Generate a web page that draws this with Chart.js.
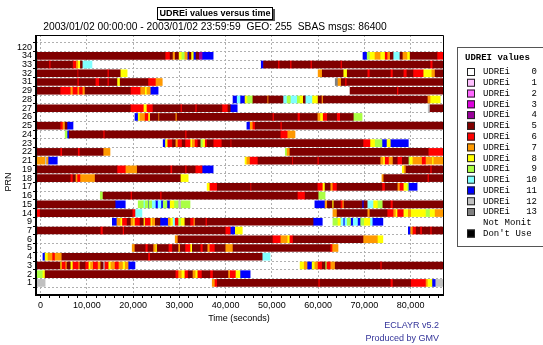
<!DOCTYPE html>
<html><head><meta charset="utf-8">
<script src="https://cdn.jsdelivr.net/npm/chart.js@4.4.0/dist/chart.umd.min.js"></script>
<style>html,body{margin:0;padding:0;background:#fff;overflow:hidden}canvas{display:block}</style>
</head><body>
<canvas id="c" width="543" height="345"></canvas>
<script>
// ---- categories (PRN rows, bottom to top) ----
const prnLabels = ['1','2','3','4','5','6','7','9','14','15','16','17','18','19','21','22','23','24','25','26','27','28','29','31','32','33','34','120'];

// ---- x ticks ----
const xMajorTicks = [0,10000,20000,30000,40000,50000,60000,70000,80000];
const xTickLabels = ['0','10,000','20,000','30,000','40,000','50,000','60,000','70,000','80,000'];
const xMinorTicks = [0,2000,4000,6000,8000,10000,12000,14000,16000,18000,20000,22000,24000,26000,28000,30000,32000,34000,36000,38000,40000,42000,44000,46000,48000,50000,52000,54000,56000,58000,60000,62000,64000,66000,68000,70000,72000,74000,76000,78000,80000,82000,84000,86000];

// ---- legend ----
const legendNames = ['UDREi','UDREi','UDREi','UDREi','UDREi','UDREi','UDREi','UDREi','UDREi','UDREi','UDREi','UDREi','UDREi','UDREi','Not Monit',"Don't Use"];
const legendValues = ['0','1','2','3','4','5','6','7','8','9','10','11','12','13','',''];
const udreiColors = ['#ffffff','#ffc0ff','#ff66ff','#dd00dd','#990099','#800000','#ff0000','#ff9900','#ffff00','#aaff44','#80ffff','#0000ff','#c0c0c0','#808080',null,'#000000'];

// ---- series: per PRN, change points [time (s), UDREi code]; null = no data ----
const prn120 = [];
const prn34 = [[-1000,5],[26900,6],[28000,5],[28500,7],[29100,5],[29800,8],[30400,9],[31200,7],[31700,11],[32100,5],[32500,8],[33000,11],[33600,5],[34300,4],[34900,11],[37300,null],
  [69700,11],[70600,9],[71200,8],[72300,7],[73400,8],[74500,6],[74900,7],[75600,5],[76200,10],[77700,5],[78200,7],[79200,8],[79900,5],[85700,6],[87000,null]];
const prn33 = [[-1000,5],[1800,6],[2200,5],[6900,6],[7600,7],[8000,8],[8600,5],[9000,10],[11100,null],
  [47700,11],[48200,5],[51300,6],[51700,5],[53900,6],[54300,5],[58300,6],[58700,5],[64800,6],[65200,5],[84200,6],[84800,5],[87000,null]];
const prn32 = [[-1000,5],[7900,6],[8200,5],[14400,6],[14800,5],[17200,8],[18700,null],
  [60000,7],[60900,5],[65400,8],[66300,5],[70600,6],[71200,5],[75600,6],[76200,5],[78400,6],[79200,5],[80500,6],[82700,8],[84600,7],[85300,5],[87000,null]];
const prn31 = [[-1000,5],[7900,6],[8300,5],[11800,6],[12700,5],[14400,6],[14800,5],[16500,8],[17200,5],[23200,6],[24800,7],[26300,null],
  [63700,13],[64300,7],[65000,5],[65800,6],[66200,5],[87000,null]];
const prn29 = [[-1000,5],[4200,6],[6400,7],[7000,6],[7900,7],[8400,6],[9000,7],[9600,5],[19400,6],[21500,7],[22500,8],[23000,7],[23700,11],[25400,null],
  [66900,5],[77000,6],[77400,5],[87000,null]];
const prn28 = [[41600,11],[42500,10],[43100,11],[44200,8],[44600,9],[45900,5],[48970,7],[49300,5],[52400,10],[53300,9],[54000,10],[55500,9],[56100,8],[56800,5],[57200,10],[58800,8],[60000,5],[60700,7],[61100,5],[83600,7],[84200,8],[86400,null]];
const prn27 = [[-1000,5],[19400,6],[22200,8],[23000,6],[24300,5],[30200,6],[30600,5],[33400,6],[33800,5],[39200,6],[40500,5],[41000,11],[42500,null],
  [83800,12],[84200,5],[87000,null]];
const prn26 = [[20400,11],[21100,8],[21500,7],[22600,6],[23200,8],[23700,5],[25400,7],[25700,5],[29100,7],[29500,5],[50100,6],[50500,5],[55500,6],[56100,5],[59800,7],[60400,8],[61100,6],[62000,5],[64000,6],[64800,5],[67600,9],[69500,null]];
const prn25 = [[-1000,5],[4200,6],[4700,7],[5300,5],[5700,11],[7000,null],
  [44600,11],[45300,7],[45900,6],[46400,5],[51800,6],[52200,5],[87000,null]];
const prn24 = [[5300,9],[5700,11],[6200,5],[13500,6],[13900,5],[31200,6],[31600,5],[51800,6],[53300,7],[55000,null]];
const prn23 = [[26500,11],[27000,8],[27500,6],[28500,5],[29100,7],[29700,6],[30600,5],[31200,6],[32300,8],[32800,7],[33400,6],[34000,5],[34500,9],[35100,8],[35600,6],[36000,5],[37300,6],[39200,5],[41000,6],[41300,5],[69700,6],[71200,8],[72200,9],[73800,11],[74900,8],[75600,11],[79500,null]];
const prn22 = [[-1000,5],[4200,6],[4700,5],[8000,6],[8500,5],[13500,7],[15000,null],
  [52900,9],[53300,7],[53900,5],[83800,6],[87000,null]];
const prn21 = [[-1000,7],[900,12],[1300,7],[1600,11],[3600,null],
  [44200,8],[44600,7],[45300,6],[47000,5],[54300,6],[54600,5],[59800,6],[60200,5],[73400,7],[74000,8],[74500,6],[75200,7],[76200,5],[77100,6],[78200,5],[79500,9],[79900,8],[80500,7],[82500,6],[83200,7],[84600,8],[85000,7],[87000,null]];
const prn19 = [[-1000,5],[16500,6],[18300,7],[20900,5],[28000,6],[28500,5],[31200,6],[31600,5],[33400,6],[34900,11],[37300,null],
  [78200,8],[78600,7],[79000,5],[84200,6],[84600,5],[87000,null]];
const prn18 = [[-1000,5],[6400,6],[7000,5],[7500,7],[8000,6],[8500,7],[11800,5],[30200,8],[31900,null],
  [73800,7],[74200,5],[83600,6],[84000,5],[87000,null]];
const prn17 = [[36000,8],[36600,6],[38200,5],[45300,6],[45600,5],[59800,6],[60900,8],[61500,5],[62600,7],[63200,6],[64100,5],[73800,6],[74500,5],[77100,7],[77700,6],[78400,8],[79200,9],[79500,11],[81400,null]];
const prn16 = [[12900,9],[13500,5],[19400,6],[19800,5],[25800,6],[26200,5],[55500,6],[57200,5],[60000,9],[61500,null]];
const prn15 = [[-1000,5],[16100,11],[18300,null],
  [21100,9],[22200,10],[22600,9],[23200,11],[23400,9],[24000,10],[24800,11],[25400,10],[26000,11],[26500,9],[27300,11],[28000,8],[28800,9],[29700,12],[30400,9],[32300,null],
  [59300,11],[61500,7],[62000,5],[63000,8],[63400,5],[64800,6],[65200,7],[65600,5],[69500,11],[69900,5],[70600,10],[72000,8],[72800,9],[74000,5],[75600,6],[76200,5],[87000,null]];
const prn14 = [[-1000,6],[-100,5],[19800,6],[20400,10],[21900,null],
  [63200,7],[64100,5],[70600,7],[71200,5],[74900,6],[76200,7],[76700,8],[77200,6],[78400,8],[79500,7],[80000,8],[83200,9],[84200,8],[85300,7],[87000,null]];
const prn9 = [[15500,11],[16500,7],[17200,8],[17700,6],[18700,5],[19400,7],[20000,8],[20400,6],[21500,5],[22200,8],[22600,6],[23700,8],[24100,7],[24800,5],[25800,11],[27600,7],[28000,8],[28500,10],[29100,6],[29700,9],[30400,8],[31200,5],[32300,6],[33000,7],[33400,5],[35600,6],[36000,5],[58900,11],[60900,null],
  [63200,9],[64300,8],[64800,10],[65400,11],[65800,10],[66300,9],[67000,11],[67600,10],[68500,11],[69200,9],[70000,8],[71200,10],[71700,11],[74000,null]];
const prn7 = [[-1000,5],[12900,6],[13500,5],[17700,6],[18100,5],[39900,6],[41000,11],[42100,8],[43600,null],
  [79500,11],[80000,7],[80500,6],[81200,5],[82000,6],[82500,5],[84200,6],[84600,5],[87000,null]];
const prn6 = [[29100,7],[29700,5],[50100,6],[51800,7],[53300,8],[53900,6],[54600,5],[69700,7],[72800,8],[74000,null]];
const prn5 = [[19800,7],[20400,5],[22600,6],[23200,5],[24300,7],[24800,8],[25200,5],[27600,6],[28500,5],[29700,7],[30200,5],[31200,6],[32300,8],[32800,5],[34500,6],[35100,5],[36000,7],[36600,6],[37700,5],[39900,7],[41600,5],[62600,6],[63000,7],[64300,null]];
const prn4 = [[500,11],[970,8],[1600,7],[2600,6],[3000,7],[4600,5],[23200,6],[23700,5],[47900,10],[49600,null]];
const prn3 = [[-1000,5],[4200,8],[4600,6],[5300,7],[5700,5],[6400,8],[7000,6],[8100,7],[8500,5],[9600,6],[10300,8],[10800,7],[11400,6],[12300,7],[13000,5],[13500,12],[13900,6],[14600,8],[15200,7],[16100,6],[16800,7],[17700,8],[18300,7],[18900,11],[20400,null],
  [56100,8],[57000,7],[57600,11],[58700,8],[59300,7],[60000,6],[60900,5],[61500,9],[61900,6],[62600,7],[63700,5],[73400,6],[73800,5],[87000,null]];
const prn2 = [[-1000,9],[500,8],[970,5],[29100,6],[29700,7],[30400,8],[31200,6],[31900,5],[32800,7],[33400,8],[34000,6],[34900,5],[36600,6],[37300,5],[40500,7],[41000,6],[42100,8],[43100,11],[45300,null]];
const prn1 = [[-1000,12],[970,null],
  [37100,7],[37700,6],[38200,5],[60000,6],[60400,5],[75600,6],[76200,5],[80000,6],[83200,7],[83600,8],[84600,11],[85300,12],[87000,null]];

const rowRuns = [prn1,prn2,prn3,prn4,prn5,prn6,prn7,prn9,prn14,prn15,prn16,prn17,prn18,prn19,prn21,prn22,prn23,prn24,prn25,prn26,prn27,prn28,prn29,prn31,prn32,prn33,prn34,prn120];

// ---- build datasets (one per UDREi code) ----
const datasets = legendNames.map((n,k)=>({
  label: n + ' ' + legendValues[k],
  data: [],
  backgroundColor: udreiColors[k] || 'rgba(0,0,0,0)',
  borderWidth: 0,
  barThickness: 7,
  grouped: false
}));
rowRuns.forEach((runs, idx)=>{
  for (let i=0;i<runs.length-1;i++){
    const [t,c] = runs[i];
    if (c===null) continue;
    datasets[c].data.push({x:[t, runs[i+1][0]], y: idx});
  }
});

const FONT = '"Liberation Sans", Arial, sans-serif';
const MONO = '"Liberation Mono", "DejaVu Sans Mono", monospace';

const deco = {
  id:'deco',
  beforeDraw(chart){
    const c=chart.ctx; c.save(); c.fillStyle='#fff'; c.fillRect(0,0,chart.width,chart.height); c.restore();
  },
  afterDraw(chart){
    const c=chart.ctx, a=chart.chartArea;
    c.save();
    // frame
    c.strokeStyle='#000';
    c.lineWidth=1;
    c.beginPath(); c.moveTo(a.left, a.top+0.5); c.lineTo(a.right+0.5, a.top+0.5); c.lineTo(a.right+0.5, a.bottom); c.stroke();
    c.lineWidth=2;
    c.beginPath(); c.moveTo(a.left, a.top); c.lineTo(a.left, a.bottom); c.lineTo(a.right+1, a.bottom); c.stroke();
    // title box
    c.fillStyle='#555'; c.fillRect(159,9,116,12);
    c.fillStyle='#fff'; c.fillRect(157,7,116,12);
    c.lineWidth=1; c.strokeStyle='#000'; c.strokeRect(157.5,7.5,115,12);
    c.fillStyle='#000'; c.font='bold 9px '+FONT; c.textAlign='center'; c.textBaseline='middle';
    c.fillText('UDREi values versus time', 215, 14);
    // subtitle
    const sub='2003/01/02 00:00:00 - 2003/01/02 23:59:59  GEO: 255  SBAS msgs: 86400';
    c.font='10px '+FONT;
    const w=c.measureText(sub).width; const fs=10*344/w;
    c.font=fs.toFixed(2)+'px '+FONT;
    c.fillText(sub, 215, 27);
    // axis titles
    c.font='9px '+FONT;
    c.fillText('Time (seconds)', 239, 319);
    c.save(); c.translate(9,182); c.rotate(-Math.PI/2); c.fillText('PRN',0,0); c.restore();
    // footer
    c.fillStyle='#333399'; c.textAlign='right';
    c.fillText('ECLAYR v5.2', 439, 326);
    c.fillText('Produced by GMV', 439, 339);
    // legend
    c.strokeStyle='#555'; c.lineWidth=1;
    c.strokeRect(457.5,47.5,90,199);
    c.fillStyle='#000'; c.textAlign='left';
    c.font='bold 9px '+MONO;
    c.fillText('UDREI values', 465, 58);
    c.font='9px '+MONO;
    for(let i=0;i<legendNames.length;i++){
      const y=72+i*10.77;
      if(udreiColors[i]){
        c.fillStyle=udreiColors[i]; c.fillRect(467,y-4,8,8);
        c.strokeStyle='#222'; c.strokeRect(467.5,y-3.5,7,7);
      }
      c.fillStyle='#000'; c.textAlign='left';
      c.fillText(legendNames[i], 483, y);
      if(legendValues[i]){ c.textAlign='right'; c.fillText(legendValues[i], 537, y); }
    }
    c.restore();
  }
};

Chart.defaults.font.family = FONT;
Chart.defaults.font.size = 9;
Chart.defaults.color = '#000';

new Chart(document.getElementById('c'), {
  type:'bar',
  data:{datasets},
  options:{
    indexAxis:'y', responsive:false, animation:false, devicePixelRatio:1,
    layout:{padding:{left:0,top:35,right:100,bottom:0}},
    plugins:{legend:{display:false}, tooltip:{enabled:false}, title:{display:false}},
    scales:{
      x:{
        type:'linear', min:-1000, max:87000,
        afterBuildTicks: s=>{ s.ticks = xMinorTicks.map(v=>({value:v})); },
        afterFit: s=>{ s.height = 50; },
        ticks:{autoSkip:false, maxRotation:0, padding:2, callback:(v)=>{ const i=xMajorTicks.indexOf(v); return i>=0?xTickLabels[i]:''; }},
        grid:{color:(ctx)=> (ctx.tick && xMajorTicks.includes(ctx.tick.value)) ? '#b0b0b0' : 'rgba(0,0,0,0)', tickLength:3, tickColor:'#000', lineWidth:1},
        border:{display:false, dash:[2,2]}
      },
      y:{
        type:'linear', min:-0.85, max:27.85,
        afterBuildTicks: s=>{ s.ticks = prnLabels.map((_,i)=>({value:i})); },
        afterFit: s=>{ s.width = 36; },
        ticks:{autoSkip:false, padding:1, callback:(v)=>prnLabels[v]},
        grid:{color:'#b0b0b0', tickLength:3, tickColor:'#000', lineWidth:1},
        border:{display:false, dash:[2,2]}
      }
    }
  },
  plugins:[deco]
});
</script>
</body></html>
